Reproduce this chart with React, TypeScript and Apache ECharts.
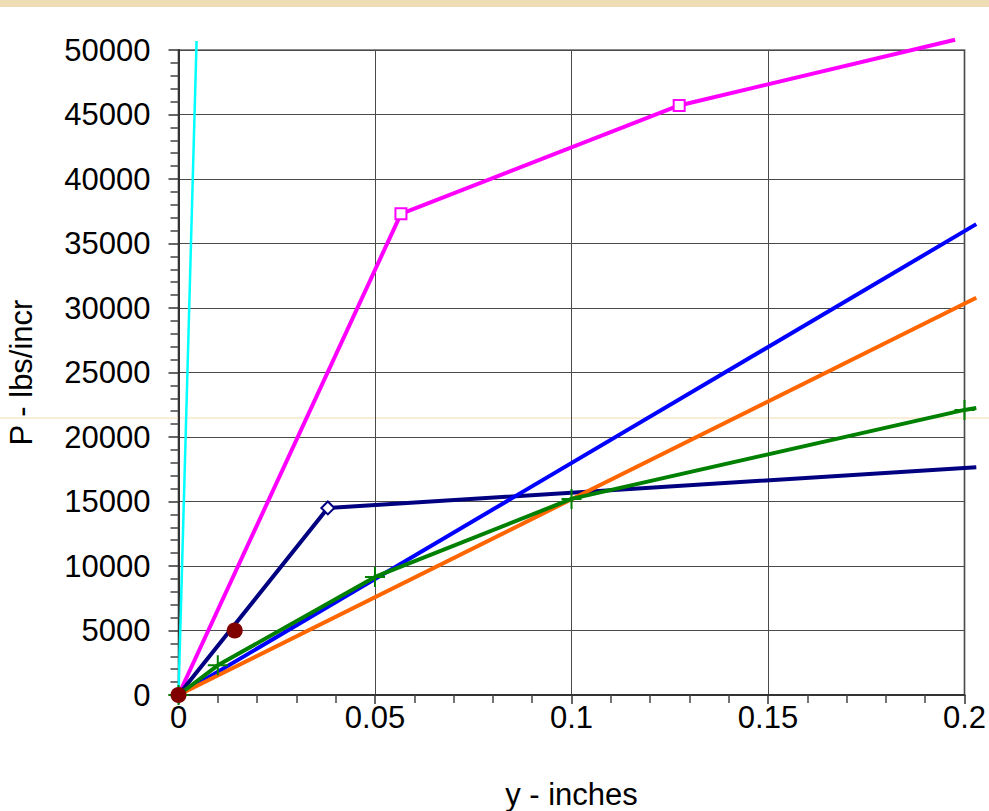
import React, { useEffect, useRef } from "react";
import * as echarts from "echarts";

// Load–deflection curves: P (lbs/incr) against y (inches)
const cyanCurve: [number, number][] = [[0, 0], [0.0046, 50700]];
const magentaCurve: [number, number][] = [[0, 0], [0.0566, 37300], [0.1274, 45700], [0.1976, 50800]];
const navyCurve: [number, number][] = [[0, 0], [0.038, 14500], [0.203, 17650]];
const blueCurve: [number, number][] = [[0, 0], [0.203, 36500]];
const orangeCurve: [number, number][] = [[0, 0], [0.203, 30800]];
const greenCurve: [number, number][] = [[0, 0], [0.01, 2300], [0.05, 9150], [0.1, 15200], [0.2, 22100], [0.203, 22250]];
const redPoints: [number, number][] = [[0, 0], [0.0143, 5000]];

// which points of each curve carry a marker
const magentaMarked = [1, 2];
const navyMarked = [1];
const greenMarked = [0, 1, 2, 3, 4];

const xTicks = { min: 0, max: 0.2, interval: 0.05 };
const yTicks = { min: 0, max: 50000, interval: 5000 };

const FONT = "'Liberation Sans', Arial, sans-serif";
const PLUS = "path://M4.5,0 H5.5 V4.5 H10 V5.5 H5.5 V10 H4.5 V5.5 H0 V4.5 H4.5 Z";

export default function App() {
  const ref = useRef<HTMLDivElement>(null);

  useEffect(() => {
    document.body.style.margin = "0";
    const chart = echarts.init(ref.current!, undefined, { renderer: "svg" });

    // curves run a little past the plot frame, so they are drawn unclipped
    const curve = (pts: [number, number][], color: string, width: number) => ({
      type: "lines",
      coordinateSystem: "cartesian2d",
      polyline: true,
      clip: false,
      silent: true,
      data: [{ coords: pts }],
      lineStyle: { color, width, opacity: 1, curveness: 0, join: "round" },
      z: 3,
    });

    const markers = (pts: [number, number][], idx: number[], symbol: string, size: number, itemStyle: object, z = 4) => ({
      type: "scatter",
      clip: false,
      data: idx.map((i) => pts[i]),
      symbol,
      symbolSize: size,
      itemStyle: { opacity: 1, ...itemStyle },
      z,
    });

    chart.setOption({
      animation: false,
      backgroundColor: "#ffffff",
      textStyle: { fontFamily: FONT },
      graphic: [
        { type: "rect", z: 0, shape: { x: 0, y: 0, width: 989, height: 7 }, style: { fill: "#eddcb4" } },
        { type: "line", z: 0, shape: { x1: 0, y1: 418, x2: 989, y2: 418 }, style: { stroke: "#f1dcae", lineWidth: 1 } },
      ],
      grid: {
        left: 178.5,
        right: 24.5,
        top: 50,
        bottom: 116,
        outerBoundsMode: "none",
        containLabel: false,
        show: true,
        borderColor: "#8a8a8a",
        borderWidth: 2,
        backgroundColor: "transparent",
      },
      xAxis: {
        type: "value",
        ...xTicks,
        name: "y - inches",
        nameLocation: "middle",
        nameGap: 84,
        nameTextStyle: { fontSize: 31, color: "#000", fontFamily: FONT },
        axisLine: { show: true, onZero: false, lineStyle: { color: "#333", width: 2 } },
        axisTick: { show: true, inside: false, length: 9, lineStyle: { color: "#333", width: 1.5 } },
        minorTick: { show: true, splitNumber: 5, length: 8, lineStyle: { color: "#444", width: 1.5 } },
        axisLabel: {
          fontSize: 31,
          color: "#000",
          margin: 7,
          fontFamily: FONT,
          formatter: (v: number) => String(parseFloat(v.toFixed(3))),
        },
        splitLine: { show: true, lineStyle: { color: "#4a4a4a", width: 1 } },
      },
      yAxis: {
        type: "value",
        ...yTicks,
        name: "P - lbs/incr",
        nameLocation: "middle",
        nameGap: 142,
        nameTextStyle: { fontSize: 31, color: "#000", fontFamily: FONT },
        axisLine: { show: true, onZero: false, lineStyle: { color: "#333", width: 2 } },
        axisTick: { show: true, inside: false, length: 10, lineStyle: { color: "#333", width: 1.5 } },
        minorTick: { show: true, splitNumber: 5, length: 8, lineStyle: { color: "#444", width: 1.5 } },
        axisLabel: { fontSize: 31, color: "#000", margin: 28, fontFamily: FONT, formatter: (v: number) => String(v) },
        splitLine: { show: true, lineStyle: { color: "#4a4a4a", width: 1 } },
      },
      series: [
        curve(cyanCurve, "#00ffff", 2.5),
        curve(magentaCurve, "#ff00ff", 4),
        curve(navyCurve, "#000080", 4),
        curve(blueCurve, "#0000ff", 4),
        curve(orangeCurve, "#ff6600", 4),
        curve(greenCurve, "#008000", 4),
        markers(magentaCurve, magentaMarked, "rect", 11, { color: "#ffffff", borderColor: "#ff00ff", borderWidth: 2 }),
        markers(navyCurve, navyMarked, "diamond", 13, { color: "#ffffff", borderColor: "#000080", borderWidth: 2 }),
        markers(greenCurve, greenMarked, PLUS, 20, { color: "#008000" }),
        markers(redPoints, [0, 1], "circle", 16, { color: "#800000" }, 5),
      ],
    });

    return () => chart.dispose();
  }, []);

  return <div ref={ref} style={{ position: "absolute", left: 0, top: 0, width: 989, height: 811 }} />;
}
